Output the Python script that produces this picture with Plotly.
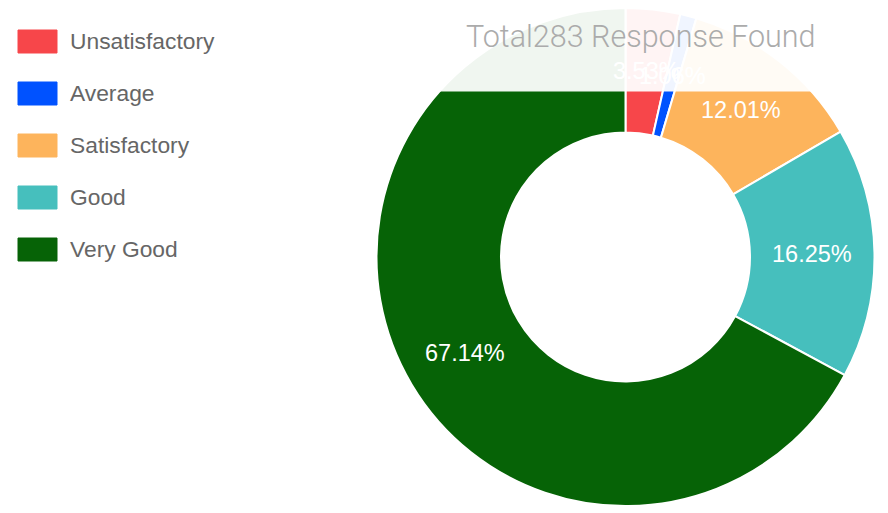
import numpy as np
import plotly.graph_objects as go

labels = ["Unsatisfactory", "Average", "Satisfactory", "Good", "Very Good"]
counts = [10, 3, 34, 46, 190]
colors = ["#F7464A", "#0052FF", "#FDB45C", "#46BFBD", "#066306"]
title_text = "Total283 Response Found"

OFF = 8  # page body margin
W, H = 888 - OFF, 513 - OFF
cx, cy = 625.5, 257.0
R = min(250.0, cy - OFF)
hole = 0.5


def px(x):
    return (x - OFF) / W


def py(y):
    return min(1.0, max(0.0, 1 - (y - OFF) / H))


fig = go.Figure()
fig.add_trace(go.Pie(
    labels=labels, values=counts, sort=False, direction="clockwise", rotation=0,
    hole=hole, marker=dict(colors=colors, line=dict(color="white", width=2)),
    textinfo="none", showlegend=False, hoverinfo="label+percent",
    domain=dict(x=[px(cx - R), px(cx + R)], y=[py(cy + R), py(cy - R)]),
))

annotations = []
shapes = []

# percentage labels at the middle of each ring segment
vals = np.array(counts, dtype=float)
frac = vals / vals.sum()
mids = np.cumsum(frac) - frac / 2
rmid = R * (1 + hole) / 2
for f, m in zip(frac, mids):
    ang = 2 * np.pi * m
    x = cx + rmid * np.sin(ang)
    y = cy - rmid * np.cos(ang)
    annotations.append(dict(
        x=px(x), y=py(y), xref="paper", yref="paper", showarrow=False,
        text=f"{f*100:.2f}%", font=dict(family="Liberation Sans, Arial", size=23.5, color="white"),
        xanchor="center", yanchor="middle",
    ))

# translucent title band over the top of the donut
annotations.append(dict(
    x=px(393), y=1, xref="paper", yref="paper", xanchor="left", yanchor="top",
    showarrow=False, text=" ", width=888 - 393, height=90 - OFF, borderpad=0,
    bgcolor="rgba(255,255,255,0.94)", font=dict(size=10),
))
annotations.append(dict(
    x=px(640.5), y=py(36), xref="paper", yref="paper", xanchor="center", yanchor="middle",
    showarrow=False, text=title_text,
    font=dict(family="Roboto", size=30.5, color="#ababab", weight=300),
))

# legend
for i, (lab, col) in enumerate(zip(labels, colors)):
    top = 30 + 52 * i
    shapes.append(dict(
        type="rect", xref="paper", yref="paper",
        x0=px(18), x1=px(57), y0=py(top + 23), y1=py(top),
        fillcolor=col, line=dict(color=col, width=1),
    ))
    annotations.append(dict(
        x=px(68), y=py(top + 11), xref="paper", yref="paper", xanchor="left", yanchor="middle",
        showarrow=False, text=lab,
        font=dict(family="Liberation Sans, Arial", size=22.8, color="#666666"),
    ))

fig.update_layout(
    width=W, height=H, margin=dict(l=0, r=0, t=0, b=0),
    paper_bgcolor="white", plot_bgcolor="white",
    annotations=annotations, shapes=shapes,
)

fig.write_html("out.html")
